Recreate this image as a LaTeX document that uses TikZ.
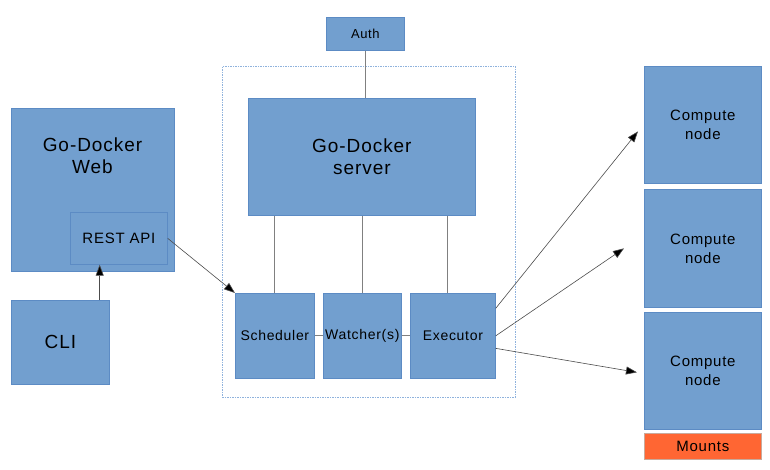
\documentclass[tikz,border=0pt]{standalone}
\usepackage{fontspec}
\setmainfont{Liberation Sans}[LetterSpace=5]
\usetikzlibrary{arrows.meta}
\definecolor{boxfill}{HTML}{729FCF}
\definecolor{boxline}{HTML}{5C8BC4}
\definecolor{mountfill}{HTML}{FF6633}
\definecolor{mountline}{HTML}{C9A99B}
\definecolor{dashline}{HTML}{8FB2DD}
\definecolor{conn}{HTML}{808080}
\tikzset{
  box/.style={draw=boxline, fill=boxfill, line width=0.7pt, inner sep=0pt, anchor=north west, align=center, font=\fontsize{15}{19}\selectfont},
  bigtext/.style={font=\fontsize{19}{22}\selectfont},
  link/.style={draw=conn, line width=0.9pt},
  arrowlink/.style={draw=black!70, line width=0.6pt, -{Triangle[length=11pt,width=8pt,fill=black]}},
  container/.style={draw=dashline, line width=0.6pt, dash pattern=on 1.5pt off 1pt, inner sep=0pt, anchor=north west},
}
\begin{document}
\begin{tikzpicture}[x=1pt,y=-1pt]
\useasboundingbox (0,0) rectangle (770,469);
% container
\node[container, minimum width=293pt, minimum height=331pt] (cont) at (222,66) {};
% auth
\node[box, minimum width=78pt, minimum height=33pt, font=\fontsize{13}{16}\selectfont] (auth) at (326,17) {Auth};
% server
\node[box, bigtext, minimum width=227pt, minimum height=117pt] (server) at (248,98) {Go-Docker\\server};
% web
\node[box, minimum width=163pt, minimum height=163pt] (web) at (11,108) {};
\node[bigtext, align=center] (webtext) at (92.5,156) {Go-Docker\\Web};
\node[box, minimum width=97pt, minimum height=52pt] (rest) at (70,212) {REST API};
% cli
\node[box, bigtext, minimum width=98pt, minimum height=84pt] (cli) at (11,300) {CLI};
% inner components
\node[box, font=\fontsize{14}{17}\selectfont, minimum width=79pt, minimum height=85pt] (sched) at (235,293) {Scheduler};
\node[box, font=\fontsize{14}{17}\selectfont, minimum width=78pt, minimum height=85pt] (watch) at (323,293) {Watcher(s)};
\node[box, font=\fontsize{14}{17}\selectfont, minimum width=85pt, minimum height=85pt] (exec) at (410,293) {Executor};
% compute nodes
\node[box, minimum width=117pt, minimum height=117pt] (comp1) at (644,66) {Compute\\node};
\node[box, minimum width=117pt, minimum height=118pt] (comp2) at (644,189) {Compute\\node};
\node[box, minimum width=117pt, minimum height=117pt] (comp3) at (644,312) {Compute\\node};
\node[box, draw=mountline, fill=mountfill, minimum width=117pt, minimum height=26pt] (mounts) at (644,433) {Mounts};
% connectors
\draw[link] (auth.south) -- (auth.south |- server.north);
\draw[link] (sched.north) -- (sched.north |- server.south);
\draw[link] (watch.north) -- (watch.north |- server.south);
\draw[link] ([xshift=-5pt]exec.north) -- ([xshift=-5pt]exec.north |- server.south);
\draw[link] (sched.east) -- (watch.west);
\draw[link] (watch.east) -- (exec.west);
\draw[arrowlink] ([xshift=-10pt]cli.north east) -- ([xshift=-10pt]cli.north east |- rest.south);
\draw[arrowlink] (rest.east) -- (sched.north west);
\coordinate (t1) at ([xshift=-6pt,yshift=-6.5pt]comp1.west);
\coordinate (t2) at ([xshift=-20pt]comp2.west);
\coordinate (t3) at ([xshift=-7pt,yshift=-1.5pt]comp3.west);
\draw[arrowlink] ([yshift=27.5pt]exec.east) -- (t1);
\draw[arrowlink] (exec.east) -- (t2);
\draw[arrowlink] ([yshift=-12.5pt]exec.east) -- (t3);
\end{tikzpicture}
\end{document}
